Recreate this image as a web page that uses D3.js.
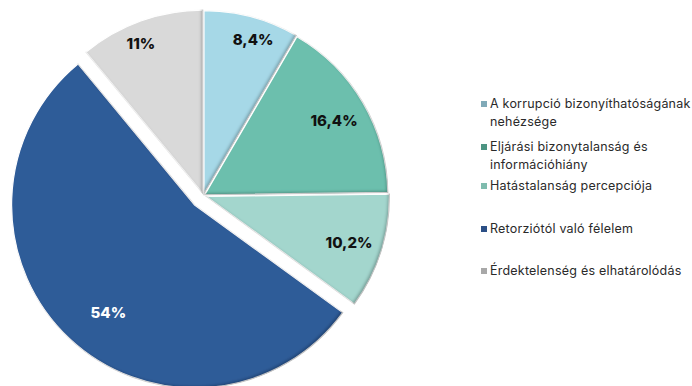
<!DOCTYPE html>
<html>
<head>
<meta charset="utf-8">
<script src="https://cdn.jsdelivr.net/npm/d3@7"></script>
<style>
  html, body { margin: 0; padding: 0; background: #fff; }
  svg { display: block; }
</style>
</head>
<body>
<svg id="chart" width="692" height="386"></svg>
<script>
// Reasons for not reporting, share of respondents (%)
const categories = [
  "A korrupció bizonyíthatóságának nehézsége",
  "Eljárási bizonytalanság és információhiány",
  "Hatástalanság percepciója",
  "Retorziótól való félelem",
  "Érdektelenség és elhatárolódás"
];
const values = [8.4, 16.4, 10.2, 54, 11];
const valueLabels = ["8,4%", "16,4%", "10,2%", "54%", "11%"];
const legendLines = [
  ["A korrupció bizonyíthatóságának", "nehézsége"],
  ["Eljárási bizonytalanság és", "információhiány"],
  ["Hatástalanság percepciója"],
  ["Retorziótól való félelem"],
  ["Érdektelenség és elhatárolódás"]
];

// Styling
const sliceColors  = ["#a6d8e7", "#6cbfad", "#a3d6cd", "#2f5b98", "#d9d9d9"];
const legendColors = ["#80aab8", "#4c9482", "#7fbcae", "#2b4f86", "#a8a8a8"];
const labelColors  = ["#111", "#111", "#111", "#fff", "#111"];
const explode      = [2, 1.5, 3, 13, 2.5];      // px each slice is pulled out
const labelRadius  = [162, 149, 150, 138, 162]; // px from slice centre
const labelTurn    = [2.5, 0.4, 0.4, -4.5, -2.6]; // degrees, nudges label off the mid-angle

const svg = d3.select("#chart");
const cx = 203.5, cy = 195.5, R = 183;

// Inner shadow along the lower-right edges of each slice
const defs = svg.append("defs");
const f = defs.append("filter").attr("id", "innerShadow")
  .attr("x", "-10%").attr("y", "-10%").attr("width", "120%").attr("height", "120%");
f.append("feComponentTransfer").attr("in", "SourceAlpha").attr("result", "inv")
  .append("feFuncA").attr("type", "table").attr("tableValues", "1 0");
f.append("feOffset").attr("in", "inv").attr("dx", -2).attr("dy", -2).attr("result", "off");
f.append("feGaussianBlur").attr("in", "off").attr("stdDeviation", 1.8).attr("result", "blur");
f.append("feComposite").attr("in", "blur").attr("in2", "SourceAlpha").attr("operator", "in").attr("result", "sh");
f.append("feColorMatrix").attr("in", "sh").attr("type", "matrix")
  .attr("values", "0 0 0 0 0  0 0 0 0 0  0 0 0 0 0  0 0 0 0.5 0").attr("result", "shadow");
const m = f.append("feMerge");
m.append("feMergeNode").attr("in", "SourceGraphic");
m.append("feMergeNode").attr("in", "shadow");

const pie = d3.pie().value(d => d).sort(null);
const arcs = pie(values);
const arc = d3.arc().innerRadius(0).outerRadius(R);

const g = svg.append("g").attr("transform", `translate(${cx},${cy})`);

const slices = g.selectAll("g.slice").data(arcs).join("g")
  .attr("class", "slice")
  .attr("transform", (d, i) => {
    const a = (d.startAngle + d.endAngle) / 2;
    return `translate(${Math.sin(a) * explode[i]},${-Math.cos(a) * explode[i]})`;
  });

slices.append("path")
  .attr("d", arc)
  .attr("fill", (d, i) => sliceColors[i])
  .attr("stroke", "#fff")
  .attr("stroke-width", 1.2)
  .attr("filter", "url(#innerShadow)");

const labelAngle = (d, i) => (d.startAngle + d.endAngle) / 2 + labelTurn[i] * Math.PI / 180;
slices.append("text")
  .attr("x", (d, i) => Math.sin(labelAngle(d, i)) * labelRadius[i])
  .attr("y", (d, i) => -Math.cos(labelAngle(d, i)) * labelRadius[i])
  .attr("dy", "0.36em")
  .attr("text-anchor", "middle")
  .attr("font-family", "Inter, 'Noto Sans', sans-serif")
  .attr("font-weight", 800)
  .attr("font-size", 15)
  .attr("fill", (d, i) => labelColors[i])
  .text((d, i) => valueLabels[i]);

// Legend
const legendY = [104, 147, 186, 229, 271];
const lg = svg.append("g").attr("font-family", "Inter, 'Noto Sans', sans-serif")
  .attr("font-size", 12.5).attr("letter-spacing", 0.22).attr("fill", "#2a2a2a");
categories.forEach((c, i) => {
  const row = lg.append("g").attr("transform", `translate(481,${legendY[i]})`);
  row.append("rect").attr("x", 0).attr("y", -3).attr("width", 6).attr("height", 6)
    .attr("fill", legendColors[i]);
  const t = row.append("text").attr("x", 9).attr("y", 0);
  legendLines[i].forEach((line, j) => {
    t.append("tspan").attr("x", 9).attr("dy", j === 0 ? "0.35em" : 18).text(line);
  });
});
</script>
</body>
</html>
